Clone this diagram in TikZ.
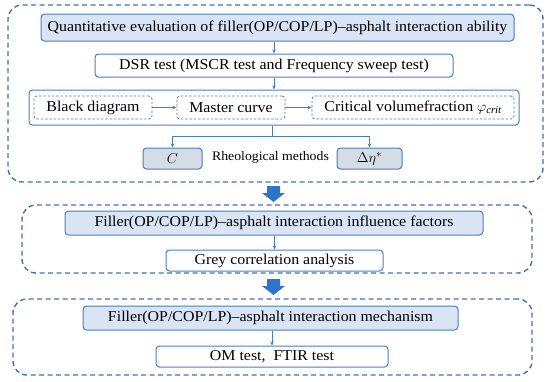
\documentclass[tikz,border=0pt]{standalone}
\usepackage{fontspec}
\setmainfont[FakeStretch=1.06]{Liberation Serif}
\usetikzlibrary{arrows.meta,calc}
\definecolor{bord}{HTML}{4A7CC6}
\definecolor{lb}{HTML}{D9E4F5}
\definecolor{gb}{HTML}{D6DCE5}
\definecolor{dash}{HTML}{3D72C0}
\definecolor{barrow}{HTML}{2F74CC}
\begin{document}
\begin{tikzpicture}[x=1pt,y=-1pt,
  outerbox/.style={draw=dash,line width=1.4pt,dash pattern=on 5pt off 3.5pt,rounded corners=14pt,minimum width=#1,inner sep=0pt},
  box/.style={draw=bord,line width=1pt,rounded corners=3.5pt,inner sep=0pt,minimum height=23pt,minimum width=#1,font=\fontsize{15}{18}\selectfont},
  bluebox/.style={box=#1,fill=lb},
  greybox/.style={box=#1,fill=gb,minimum height=21pt},
  dbox/.style={draw=bord,line width=0.8pt,dash pattern=on 2.5pt off 1.8pt,rounded corners=3pt,inner sep=0pt,minimum height=23pt,minimum width=#1,font=\fontsize{15}{18}\selectfont},
  arr/.style={draw=bord,line width=0.8pt,-{Stealth[length=4pt,width=3.5pt]}},
  blk/.style={fill=barrow,draw=none}]
\useasboundingbox (0,0) rectangle (550,381);
% outer boxes
\node[outerbox=535pt,minimum height=177pt] (o1) at (275.5,93.5) {};
\node[outerbox=510pt,minimum height=68pt] (o2) at (277,239) {};
\node[outerbox=519pt,minimum height=76pt] (o3) at (272.5,337) {};
% section 1
\node[bluebox=473pt,minimum height=27pt] (q) at (277.5,27.5) {Quantitative evaluation of filler(OP/COP/LP)–asphalt interaction ability};
\node[box=358pt] (dsr) at (274,65.5) {DSR test (MSCR test and Frequency sweep test)};
\node[box=490pt,minimum height=35pt] (row) at (274,107.5) {};
\node[dbox=118pt] (bd) at (93,107.5) {Black diagram};
\node[dbox=108pt] (mc) at (231,107.5) {Master curve};
\node[dbox=202pt] (cv) at (413,107.5) {Critical volumefraction $\varphi_{\mathit{crit}}$};
\node[greybox=59pt] (c) at (172.5,158.5) {$C$};
\node[greybox=65pt] (de) at (369.5,158.5) {$\Delta\eta^{*}$};
\node[font=\fontsize{13}{15}\selectfont,inner sep=0pt] (rm) at (270.5,157.5) {Rheological methods};
\coordinate (split) at (272,136);
\draw[arr] (dsr.north |- q.south) -- (dsr.north);
\draw[arr] (row.north |- dsr.south) -- (row.north);
\draw[arr] (bd.east) -- (mc.west);
\draw[arr] (mc.east) -- (cv.west);
\draw[draw=bord,line width=0.8pt] (split |- row.south) -- (split);
\draw[arr] (split) -| (c.north);
\draw[arr] (split) -| (de.north);
% block arrow 1
\coordinate (ba1) at (273.5,186);
\fill[blk] (ba1) ++(-6.5,0) -- ++(13,0) -- ++(0,7) -- ++(5,0) -- (273.5,202) -- (262,193) -- (267,193) -- cycle;
% section 2
\node[bluebox=418pt,minimum height=24pt] (f1) at (274,223) {Filler(OP/COP/LP)–asphalt interaction influence factors};
\node[box=217pt,minimum height=21pt] (gr) at (274.5,260.5) {Grey correlation analysis};
\draw[arr] (gr.north |- f1.south) -- (gr.north);
% block arrow 2
\coordinate (ba2) at (273.5,279);
\fill[blk] (ba2) ++(-6.5,0) -- ++(13,0) -- ++(0,7) -- ++(5,0) -- (273.5,295) -- (262,286) -- (267,286) -- cycle;
% section 3
\node[bluebox=375pt,minimum height=24pt] (f2) at (270.5,318) {Filler(OP/COP/LP)–asphalt interaction mechanism};
\node[box=232pt,minimum height=21pt] (om) at (272,356.5) {OM test,\ \ FTIR test};
\draw[arr] (om.north |- f2.south) -- (om.north);
\end{tikzpicture}
\end{document}
